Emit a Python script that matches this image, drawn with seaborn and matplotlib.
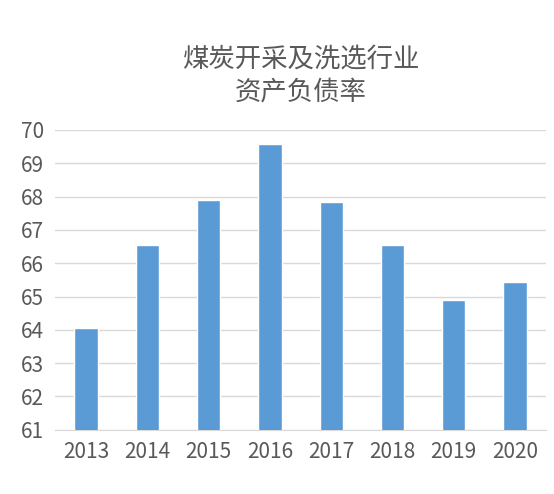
import seaborn as sns
import matplotlib.pyplot as plt

years = ['2013', '2014', '2015', '2016', '2017', '2018', '2019', '2020']
ratio = [64.05, 66.55, 67.9, 69.58, 67.84, 66.55, 64.9, 65.44]

sns.set_style("white")
plt.rcParams['font.family'] = ['Noto Sans CJK SC', 'DejaVu Sans']

fig, ax = plt.subplots(figsize=(5.54, 4.94), dpi=100)
sns.barplot(x=years, y=ratio, color="#5B9BD5", saturation=1, width=0.38, ax=ax, zorder=3)
ax.set_ylim(61, 70)
ax.set_yticks(range(61, 71))
ax.yaxis.grid(True, color="#D9D9D9", linewidth=1, zorder=0)
for s in ['top', 'right', 'left']:
    ax.spines[s].set_visible(False)
ax.spines['bottom'].set_color("#D9D9D9")
ax.tick_params(axis='both', length=0, labelsize=15, colors="#595959", pad=8)
ax.set_title("煤炭开采及洗选行业\n资产负债率", fontsize=19, color="#595959", pad=22, linespacing=1.3)
fig.subplots_adjust(left=0.1, right=0.985, top=0.737, bottom=0.13)
fig.savefig("out.png")
